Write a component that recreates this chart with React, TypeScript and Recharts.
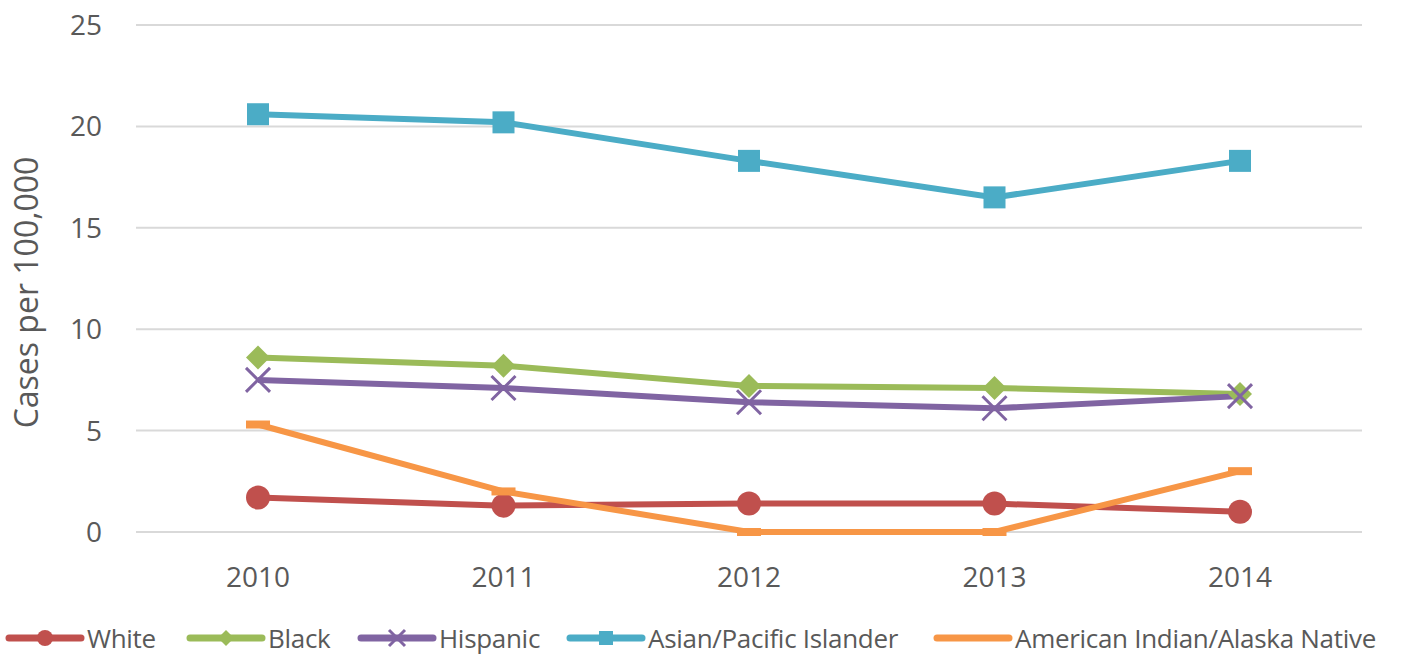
import { LineChart, Line, XAxis, YAxis, CartesianGrid } from 'recharts';

const years = ['2010', '2011', '2012', '2013', '2014'];
const white = [1.7, 1.3, 1.4, 1.4, 1.0];
const black = [8.6, 8.2, 7.2, 7.1, 6.8];
const hispanic = [7.5, 7.1, 6.4, 6.1, 6.7];
const asian = [20.6, 20.2, 18.3, 16.5, 18.3];
const aian = [5.3, 2.0, 0, 0, 3.0];
const yTicks = [0, 5, 10, 15, 20, 25];

const data = years.map((year, i) => ({
  year,
  white: white[i],
  black: black[i],
  hispanic: hispanic[i],
  asian: asian[i],
  aian: aian[i],
}));

type Marker = 'circle' | 'diamond' | 'x' | 'square' | 'dash';

const series: { key: string; name: string; color: string; marker: Marker; legendX: number }[] = [
  { key: 'white', name: 'White', color: '#C0504D', marker: 'circle', legendX: 5 },
  { key: 'black', name: 'Black', color: '#9BBB59', marker: 'diamond', legendX: 186 },
  { key: 'hispanic', name: 'Hispanic', color: '#8064A2', marker: 'x', legendX: 357 },
  { key: 'asian', name: 'Asian/Pacific Islander', color: '#4BACC6', marker: 'square', legendX: 566 },
  { key: 'aian', name: 'American Indian/Alaska Native', color: '#F79646', marker: 'dash', legendX: 933 },
];

const FONT = '"Open Sans", sans-serif';
const TEXT = '#595959';

function drawMarker(marker: Marker, cx: number, cy: number, color: string, key?: string, s = 12) {
  switch (marker) {
    case 'circle':
      return <circle key={key} cx={cx} cy={cy} r={s} fill={color} />;
    case 'diamond':
      return <path key={key} d={`M${cx},${cy - s}L${cx + s},${cy}L${cx},${cy + s}L${cx - s},${cy}Z`} fill={color} />;
    case 'x':
      return (
        <path
          key={key}
          d={`M${cx - s},${cy - s}L${cx + s},${cy + s}M${cx + s},${cy - s}L${cx - s},${cy + s}`}
          stroke={color}
          strokeWidth={3}
          fill="none"
        />
      );
    case 'square':
      return <rect key={key} x={cx - s + 1} y={cy - s + 1} width={2 * s - 2} height={2 * s - 2} fill={color} />;
    case 'dash':
      return <rect key={key} x={cx - s} y={cy - 4} width={2 * s} height={8} fill={color} />;
  }
}

function makeDot(marker: Marker, color: string) {
  return (props: any) => {
    const { cx, cy, index } = props;
    if (cx == null || cy == null) return <g key={`d-${index}`} />;
    return drawMarker(marker, cx, cy, color, `d-${index}`);
  };
}

function YLabel(props: any) {
  const vb = props.viewBox || { x: 0, y: 0, width: 0, height: 0 };
  const x = vb.x + 25;
  const y = vb.y + vb.height / 2 + 14;
  return (
    <text
      x={x}
      y={y}
      transform={`rotate(-90, ${x}, ${y})`}
      textAnchor="middle"
      dominantBaseline="central"
      fill={TEXT}
      fontSize={32}
      fontFamily={FONT}
    >
      Cases per 100,000
    </text>
  );
}

export default function App() {
  return (
    <div style={{ position: 'absolute', left: 0, top: 0, width: 1404, height: 655, background: '#fff' }}>
      <LineChart width={1404} height={655} data={data} margin={{ top: 25, right: 42, left: 0, bottom: 73 }}>
        <CartesianGrid horizontal vertical={false} stroke="#D9D9D9" strokeWidth={2} />
        <XAxis
          dataKey="year"
          axisLine={false}
          tickLine={false}
          height={50}
          tickMargin={29}
          padding={{ left: 122, right: 122 }}
          tick={{ fill: TEXT, fontSize: 28, fontFamily: FONT }}
        />
        <YAxis
          domain={[0, 25]}
          ticks={yTicks}
          width={136}
          axisLine={false}
          tickLine={false}
          tickMargin={28}
          tick={{ fill: TEXT, fontSize: 28, fontFamily: FONT }}
          label={{ content: <YLabel /> }}
        />
        {series.map((s) => (
          <Line
            key={s.key}
            dataKey={s.key}
            name={s.name}
            stroke={s.color}
            strokeWidth={6}
            dot={makeDot(s.marker, s.color)}
            activeDot={false}
            isAnimationActive={false}
          />
        ))}
      </LineChart>
      {series.map((s) => (
        <div
          key={s.key}
          style={{
            position: 'absolute',
            left: s.legendX,
            top: 620,
            height: 36,
            display: 'flex',
            alignItems: 'center',
            fontFamily: FONT,
            fontSize: 26,
            color: TEXT,
            whiteSpace: 'nowrap',
          }}
        >
          <svg width={80} height={36} style={{ marginRight: 2 }}>
            <line x1={4} y1={18} x2={76} y2={18} stroke={s.color} strokeWidth={7} strokeLinecap="round" />
            {s.marker !== 'dash' && drawMarker(s.marker, 40, 18, s.color, undefined, 8)}
          </svg>
          <span style={{ letterSpacing: -0.3 }}>{s.name}</span>
        </div>
      ))}
    </div>
  );
}
